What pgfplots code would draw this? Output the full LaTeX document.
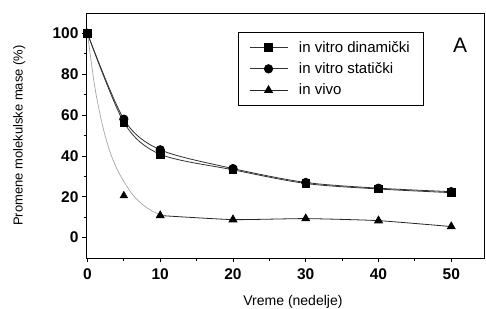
\documentclass[border=0pt]{standalone}
\usepackage{fontspec}
\setmainfont{Liberation Sans}
\usepackage{pgfplots}
\pgfplotsset{compat=1.18}
\begin{document}
\begin{tikzpicture}
\begin{axis}[
 scale only axis, width=398pt, height=245pt,
 xmin=-0.2, xmax=54.5, ymin=-10, ymax=110,
 xtick={0,10,...,50}, ytick={0,20,...,100},
 minor x tick num=1, minor y tick num=1,
 tick align=outside, xtick pos=bottom, ytick pos=left,
 major tick length=4pt, minor tick length=2.5pt,
 axis line style={line width=1pt},
 tick style={black, line width=0.8pt},
 ticklabel style={font=\fontsize{15.5}{17}\selectfont\bfseries},
 xticklabel style={yshift=-3pt},
 /pgf/number format/assume math mode=true,
 xlabel={Vreme (nedelje)}, ylabel={Promene molekulske mase (\%)},
 xlabel style={font=\fontsize{14}{16}\selectfont, at={(axis description cs:0.52,-0.18)}, anchor=center},
 ylabel style={font=\fontsize{13}{15}\selectfont, at={(axis description cs:-0.168,0.5)}, anchor=center},
 legend style={at={(1,1)}, anchor=north east, xshift=-61pt, yshift=-19pt,
   draw=black, font=\fontsize{15}{17}\selectfont,
   inner xsep=11pt, inner ysep=7pt, row sep=5pt, column sep=9pt},
 legend cell align=left,
 legend image code/.code={\draw[mark repeat=2,mark phase=2] plot coordinates {(0pt,0pt) (19pt,0pt) (38pt,0pt)};},
]
\addplot[forget plot, gray!70, line width=0.7pt, smooth] coordinates {
 (0,100)(1,74)(2,56)(3,43)(4,34)(5,27.5)(6,22)(7,18)(8,15)(9,12.8)(10,11.2)};
\addplot[forget plot, only marks, black, mark=triangle*, mark size=4.5pt] coordinates {(0,100)(5,20.5)};
\addplot[black!80, line width=0.8pt, smooth, mark=square*, mark size=3.8pt, mark options={solid, black}] coordinates {
 (0,100)(5,56.5)(10,40.8)(20,33.2)(30,26.5)(40,23.8)(50,22)};
\addlegendentry{in vitro dinamički}
\addplot[black!80, line width=0.8pt, smooth, mark=*, mark size=4.2pt, mark options={solid, black}] coordinates {
 (0,100)(5,58)(10,43)(20,33.8)(30,27)(40,24.2)(50,22.5)};
\addlegendentry{in vitro statički}
\addplot[black!85, line width=0.8pt, smooth, tension=0.3, mark=triangle*, mark size=4.5pt, mark options={solid, black}] coordinates {
 (10,10.8)(20,8.8)(30,9.3)(40,8.3)(50,5.4)};
\addlegendentry{in vivo}
\addplot[forget plot, only marks, black, mark=square*, mark size=3.8pt] coordinates {(0,100)};
\node[font=\fontsize{21}{24}\selectfont] at (rel axis cs:0.94,0.869) {A};
\end{axis}
\pgfresetboundingbox
\path ([shift={(-86pt,-50pt)}]current axis.south west) rectangle ([shift={(2pt,13pt)}]current axis.north east);
\end{tikzpicture}
\end{document}
